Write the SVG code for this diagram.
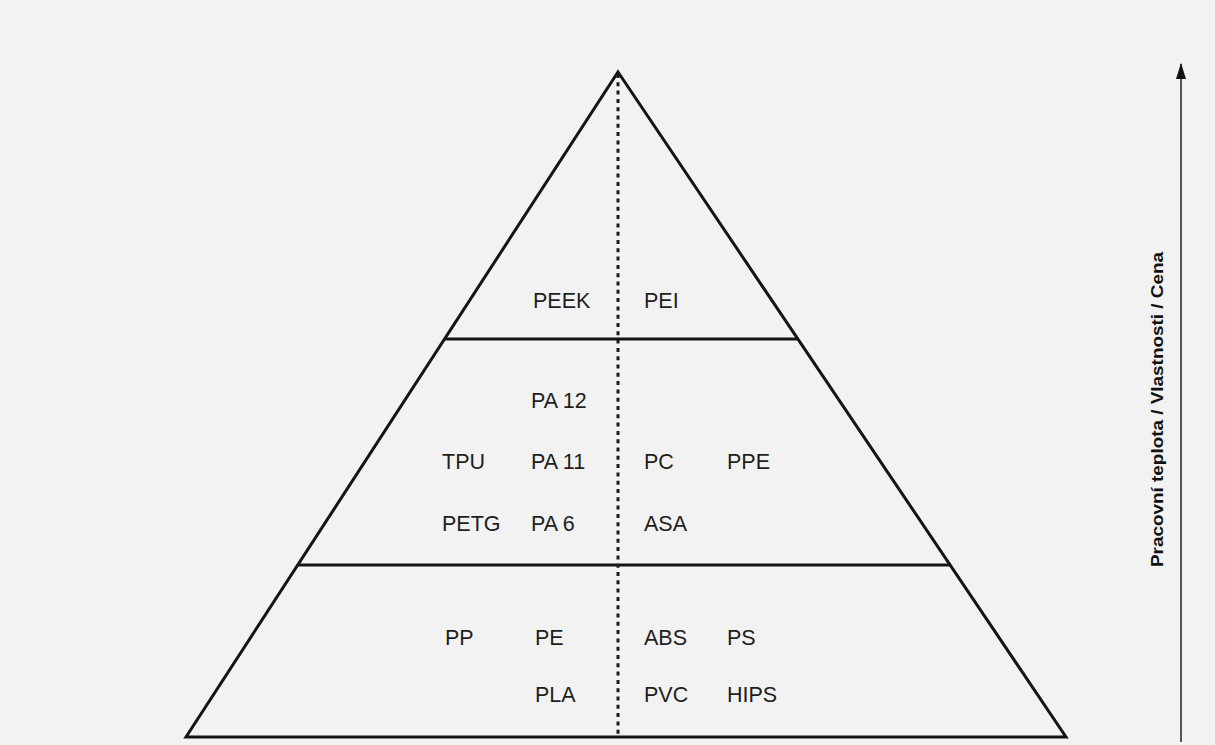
<svg xmlns="http://www.w3.org/2000/svg" width="1215" height="745" viewBox="0 0 1215 745">
  <defs>
    <style>
      .edge { stroke: #141414; stroke-width: 3; fill: none; stroke-linejoin: miter; }
      .dots { stroke: #1a1a1a; stroke-width: 3; stroke-dasharray: 4 4.3; fill: none; }
      .lbl { font-family: "Liberation Sans", Arial, sans-serif; font-size: 21.5px; fill: #1e1e1e; }
      .axis { font-family: "Liberation Sans", Arial, sans-serif; font-size: 16.5px; font-weight: bold; fill: #111; }
    </style>
    <marker id="arrowhead" viewBox="0 0 16 10" refX="15" refY="5" markerWidth="16" markerHeight="10" markerUnits="userSpaceOnUse" orient="auto">
      <path d="M0,0 L16,5 L0,10 Z" fill="#111"/>
    </marker>
  </defs>
  <rect x="0" y="0" width="1215" height="745" fill="#f2f2f2"/>

  <g id="pyramid">
    <polygon class="edge" points="618,72 1066,737 186,737"/>
  </g>
  <g id="tier-dividers">
    <line class="edge" x1="444.5" y1="339" x2="797.5" y2="339"/>
    <line class="edge" x1="298" y1="565" x2="950" y2="565"/>
  </g>

  <g id="connectors">
    <line class="dots" x1="618" y1="74" x2="618" y2="737"/>
    <line x1="1181" y1="742" x2="1181" y2="64" stroke="#555" stroke-width="2" marker-end="url(#arrowhead)"/>
  </g>

  <g id="tier-top">
    <text class="lbl" x="533" y="308">PEEK</text>
    <text class="lbl" x="644" y="308">PEI</text>
  </g>

  <g id="tier-middle">
    <text class="lbl" x="531" y="408">PA 12</text>
    <text class="lbl" x="442" y="469">TPU</text>
    <text class="lbl" x="531" y="469">PA 11</text>
    <text class="lbl" x="644" y="469">PC</text>
    <text class="lbl" x="727" y="469">PPE</text>
    <text class="lbl" x="442" y="531">PETG</text>
    <text class="lbl" x="531" y="531">PA 6</text>
    <text class="lbl" x="644" y="531">ASA</text>
  </g>

  <g id="tier-bottom">
    <text class="lbl" x="445" y="645">PP</text>
    <text class="lbl" x="535" y="645">PE</text>
    <text class="lbl" x="644" y="645">ABS</text>
    <text class="lbl" x="727" y="645">PS</text>
    <text class="lbl" x="535" y="702">PLA</text>
    <text class="lbl" x="644" y="702">PVC</text>
    <text class="lbl" x="727" y="702">HIPS</text>
  </g>

  <g id="axis-label">
    <text class="axis" x="0" y="0" transform="translate(1163,409.5) rotate(-90)" text-anchor="middle" textLength="315" lengthAdjust="spacingAndGlyphs">Pracovní teplota / Vlastnosti / Cena</text>
  </g>
</svg>
